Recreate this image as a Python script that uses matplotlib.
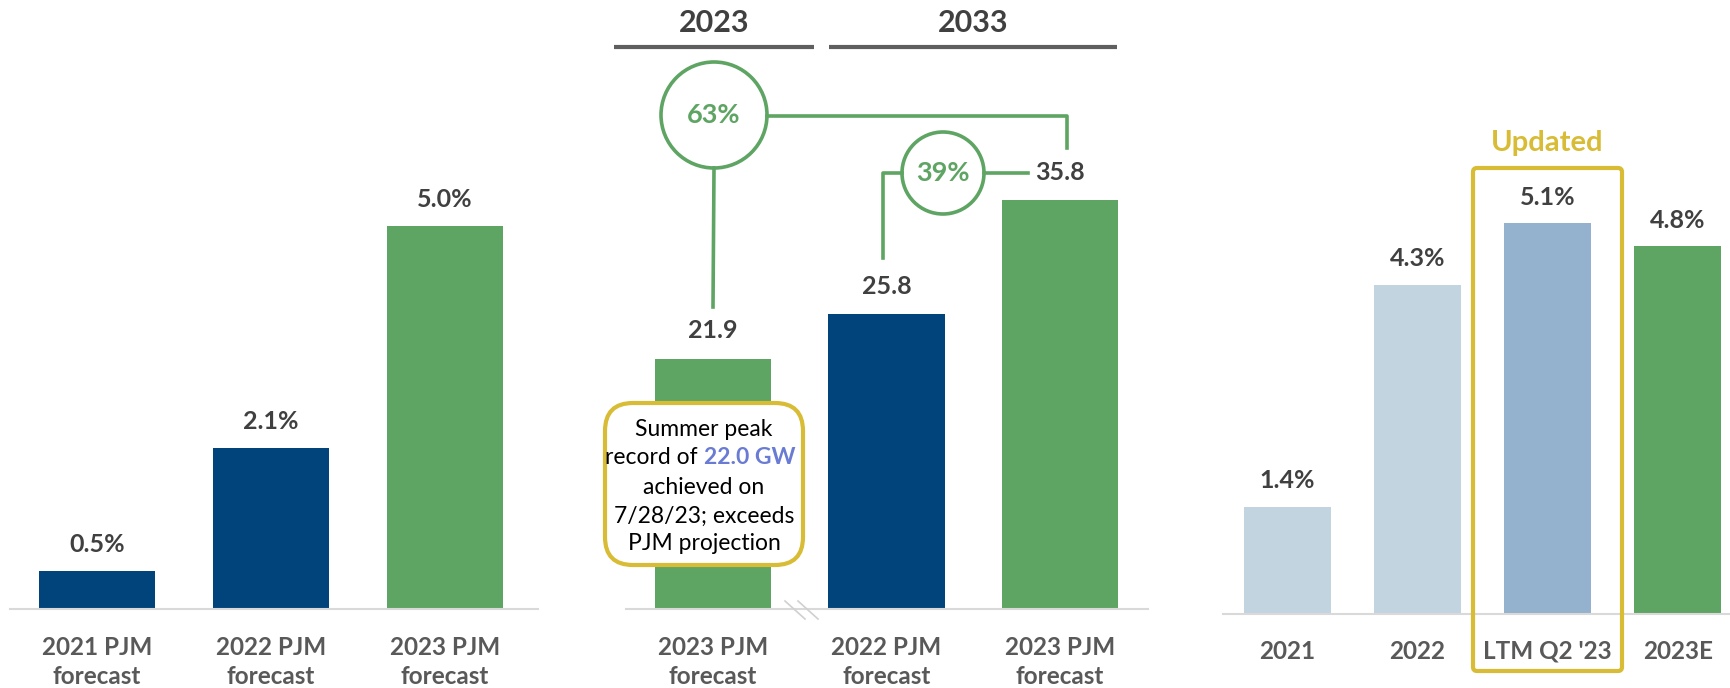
import numpy as np
import matplotlib.pyplot as plt
from matplotlib.patches import Circle, FancyBboxPatch

plt.rcParams['font.family'] = ['Lato', 'DejaVu Sans']

#%% Data
growth_labels = ['2021 PJM\nforecast', '2022 PJM\nforecast', '2023 PJM\nforecast']
growth_vals = [0.5, 2.1, 5.0]

peak_labels = ['2023 PJM\nforecast', '2022 PJM\nforecast', '2023 PJM\nforecast']
peak_vals = [21.9, 25.8, 35.8]

sales_labels = ['2021', '2022', "LTM Q2 '23", '2023E']
sales_vals = [1.4, 4.3, 5.1, 4.8]

#%% Style
NAVY = '#00447B'
GREEN = '#5EA463'
LIGHT = '#C3D4E1'
MID = '#94B1CD'
GOLD = '#D8BC35'
DARK = '#404040'
GREY = '#595959'

growth_colors = [NAVY, NAVY, GREEN]
peak_colors = [GREEN, NAVY, GREEN]
sales_colors = [LIGHT, LIGHT, MID, GREEN]

W, H = 1731, 688
fig = plt.figure(figsize=(W / 100, H / 100), dpi=100)


def panel(left, right, base, xlim, px_per_unit, labels, vals, colors, fmt, pad, off):
    ax = fig.add_axes([left / W, (H - base) / H, (right - left) / W, base / H])
    x = np.arange(len(vals))
    ax.bar(x, vals, width=0.67, color=colors)
    for i, v in enumerate(vals):
        ax.annotate(fmt.format(v), (i, v), xytext=(0, off), textcoords='offset pixels',
                    ha='center', va='center', fontsize=18, fontweight='bold', color=DARK)
    ax.set_xlim(*xlim)
    ax.set_ylim(0, base / px_per_unit)
    ax.set_xticks(x)
    ax.set_xticklabels(labels, fontsize=17.5, fontweight='bold', color=GREY, linespacing=1.29)
    ax.tick_params(axis='x', length=0, pad=pad)
    ax.set_yticks([])
    for s in ['top', 'left', 'right']:
        ax.spines[s].set_visible(False)
    ax.spines['bottom'].set_color('#D9D9D9')
    ax.spines['bottom'].set_linewidth(1.5)
    ax.patch.set_alpha(0)
    return ax


ax1 = panel(10, 538, 609, (-0.5, 2.534), 76.7, growth_labels, growth_vals,
            growth_colors, '{:.1f}%', 19.5, 26)
ax2 = panel(626, 1148, 609, (-0.501, 2.507), 11.42, peak_labels, peak_vals,
            peak_colors, '{:.1f}', 19.5, 28)
ax3 = panel(1223, 1731, 614, (-0.496, 3.41), 76.6, sales_labels, sales_vals,
            sales_colors, '{:.1f}%', 18.5, 26)

#%% Overlay for annotations (pixel coordinates)
ov = fig.add_axes([0, 0, 1, 1])
ov.set_xlim(0, W)
ov.set_ylim(H, 0)
ov.axis('off')

# "Updated" box around the LTM bar
ov.add_patch(FancyBboxPatch((1473, 168), 149, 503,
                            boxstyle='round,pad=0,rounding_size=4',
                            fill=False, ec=GOLD, lw=3))
ov.text(1547, 143, 'Updated', ha='center', va='center', fontsize=21,
        fontweight='bold', color=GOLD)

# period headers
for txt, x0, x1 in [('2023', 614, 814), ('2033', 829, 1117)]:
    ov.plot([x0, x1], [47, 47], color='#5F5F5F', lw=3, solid_capstyle='butt')
    ov.text((x0 + x1) / 2, 23, txt, ha='center', va='center', fontsize=22,
            fontweight='bold', color=DARK)

# growth circles and connectors
ov.plot([714, 713], [168, 307], color=GREEN, lw=2.6)
ov.plot([767, 1067, 1067], [116, 116, 148], color=GREEN, lw=2.6)
ov.plot([902, 883, 883], [173, 173, 258], color=GREEN, lw=2.6)
ov.plot([984, 1028], [173, 173], color=GREEN, lw=2.6)
for (cx, cy, r, txt) in [(714, 115, 53, '63%'), (943, 173, 41, '39%')]:
    ov.add_patch(Circle((cx, cy), r, fc='white', ec=GREEN, lw=2.6))
    ov.text(cx, cy, txt, ha='center', va='center', fontsize=19.5,
            fontweight='bold', color=GREEN)

# axis break marks
for dx in [0, 13]:
    ov.plot([785 + dx, 805 + dx], [601, 619], color='#D0D0D0', lw=1.2)

# callout box
ov.add_patch(FancyBboxPatch((605, 403), 198, 162,
                            boxstyle='round,pad=0,rounding_size=28',
                            fc='white', ec=GOLD, lw=3))
cx = 704
fs = 16.5
lines_y = [429, 458, 487, 516, 543]
ov.text(cx, lines_y[0], 'Summer peak', ha='center', va='center', fontsize=fs, color='black')
ov.text(704, lines_y[1], 'record of ', ha='right', va='center', fontsize=fs, color='black')
ov.text(704, lines_y[1], '22.0 GW', ha='left', va='center', fontsize=fs,
        fontweight='bold', color='#6A7BD4')
ov.text(cx, lines_y[2], 'achieved on', ha='center', va='center', fontsize=fs, color='black')
ov.text(cx, lines_y[3], '7/28/23; exceeds', ha='center', va='center', fontsize=fs, color='black')
ov.text(cx, lines_y[4], 'PJM projection', ha='center', va='center', fontsize=fs, color='black')

fig.savefig('out.png', dpi=100)
